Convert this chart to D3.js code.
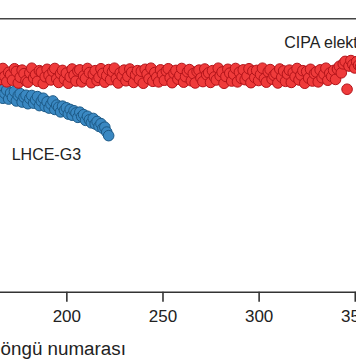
<!DOCTYPE html>
<html>
<head>
<meta charset="utf-8">
<script src="https://cdn.jsdelivr.net/npm/d3@7"></script>
<style>
  html, body { margin: 0; padding: 0; background: #fff; overflow: hidden; }
  svg { display: block; }
</style>
</head>
<body>
<script>
// CIPA electrolyte, one point per cycle starting at cycle 150
const redStart = 150;
const redValues = [
  79.0, 78.1, 80.9, 81.6, 77.2, 79.8, 76.6, 80.3, 81.9, 78.4,
  77.0, 80.6, 79.2, 76.4, 81.3, 80.0, 77.8, 81.8, 78.9, 76.9,
  80.4, 79.5, 77.5, 81.7, 80.7, 76.5, 78.6, 81.2, 79.9, 77.3,
  76.8, 80.2, 81.9, 78.3, 79.6, 77.1, 81.0, 80.5, 76.3, 78.8,
  81.5, 79.3, 77.6, 80.8, 81.8, 78.0, 76.7, 79.9, 81.1, 77.9,
  80.1, 76.4, 78.7, 81.6, 79.4, 77.2, 80.9, 81.3, 76.9, 79.1,
  78.2, 81.8, 80.3, 76.6, 79.7, 81.0, 77.4, 78.5, 81.7, 80.0,
  76.8, 79.2, 81.4, 77.7, 80.6, 81.9, 78.1, 76.5, 80.2, 79.0,
  81.2, 77.3, 78.9, 81.6, 80.4, 76.7, 79.5, 81.0, 77.8, 80.8,
  76.4, 81.5, 79.8, 78.0, 81.9, 77.1, 80.3, 78.6, 76.9, 81.3,
  79.6, 77.5, 80.9, 81.7, 78.4, 76.6, 80.0, 81.1, 77.9, 79.3,
  81.8, 76.8, 78.8, 80.6, 81.4, 77.3, 79.9, 76.5, 80.7, 81.2,
  78.3, 77.0, 81.6, 79.5, 80.2, 76.7, 81.0, 78.7, 77.6, 81.9,
  79.1, 80.5, 76.4, 78.9, 81.5, 80.1, 77.2, 79.7, 81.8, 76.9,
  80.4, 78.2, 81.3, 77.7, 79.0, 81.7, 76.6, 80.8, 78.5, 81.1,
  77.4, 79.6, 81.9, 78.1, 76.8, 80.6, 81.4, 77.9, 79.3, 80.0,
  76.5, 81.6, 78.6, 80.9, 77.1, 79.8, 81.2, 76.7, 80.3, 78.8,
  81.8, 77.6, 79.4, 81.0, 76.4, 80.7, 78.3, 81.5, 77.2, 79.9,
  80.5, 76.9, 81.3, 78.4, 79.7, 81.9, 77.5, 80.1, 78.9, 81.1,
  77.8, 81.6, 82.6, 80.2, 83.5, 84.4, 74.2, 82.7, 84.7, 83.2,
  82.0, 84.3, 83.0, 82.4, 84.1, 82.8, 83.5, 82.2, 83.9, 82.9,
  82.5
];
// LHCE-G3, one point per cycle starting at cycle 150
const blueStart = 150;
const blueValues = [
  76.0, 73.1, 75.2, 72.6, 74.8, 76.1, 72.9, 74.0, 75.6, 72.4,
  73.9, 75.3, 72.2, 74.5, 71.6, 73.8, 74.4, 70.9, 72.7, 73.9,
  70.6, 72.8, 71.2, 73.4, 69.9, 71.9, 72.6, 69.5, 71.3, 72.0,
  68.9, 70.8, 71.9, 69.1, 70.3, 71.5, 68.2, 69.8, 70.9, 67.9,
  69.6, 67.3, 68.7, 69.9, 66.8, 68.4, 67.6, 65.9, 68.0, 66.5,
  67.4, 65.1, 66.8, 64.7, 66.3, 65.5, 63.9, 65.8, 64.2, 64.9,
  62.8, 64.3, 63.0, 61.9, 63.5, 61.5, 62.4, 60.6, 61.6, 59.9,
  60.3, 58.5, 57.2
];
const xTicks = [200, 250, 300, 350];
const xTitle = "Döngü numarası";
const seriesLabels = ["CIPA elektroliti", "LHCE-G3"];

const W = 356, H = 364;
const svg = d3.select("body").append("svg").attr("width", W).attr("height", H);

const x = d3.scaleLinear().domain([0, 400]).range([-318.2, 450.9]);
const y = d3.scaleLinear().domain([0, 100]).range([291.8, 18.8]);

const red = redValues.map((v, i) => ({ c: redStart + i, v }));
const blue = blueValues.map((v, i) => ({ c: blueStart + i, v }));

const FONT = "'Liberation Sans', Arial, sans-serif";

// top frame line
svg.append("line")
  .attr("x1", x(0)).attr("x2", x(400))
  .attr("y1", y(100)).attr("y2", y(100))
  .attr("stroke", "#444").attr("stroke-width", 1.6);

// x axis
const ax = svg.append("g")
  .attr("transform", `translate(0,${y(0)})`)
  .call(d3.axisBottom(x).tickValues(xTicks).tickSize(10).tickSizeOuter(0).tickPadding(7.7));
ax.select(".domain").attr("stroke", "#333").attr("stroke-width", 1.6);
ax.selectAll(".tick line").attr("stroke", "#333").attr("stroke-width", 1.6);
ax.selectAll(".tick text")
  .attr("fill", "#222")
  .style("font-family", FONT)
  .style("font-size", "17px");

svg.append("text")
  .attr("x", -13).attr("y", 355)
  .attr("fill", "#222")
  .style("font-family", FONT)
  .style("font-size", "18.8px")
  .text(xTitle);

// points
svg.append("g").selectAll("circle").data(blue).join("circle")
  .attr("cx", d => x(d.c)).attr("cy", d => y(d.v)).attr("r", 5.3)
  .attr("fill", "#3a88c2").attr("stroke", "#1d5a87").attr("stroke-width", 1);

svg.append("g").selectAll("circle").data(red).join("circle")
  .attr("cx", d => x(d.c)).attr("cy", d => y(d.v)).attr("r", 5.3)
  .attr("fill", "#ef3b3b").attr("stroke", "#b3141a").attr("stroke-width", 1);

// labels
svg.append("text")
  .attr("x", 284.3).attr("y", 48.3)
  .attr("fill", "#222")
  .style("font-family", FONT)
  .style("font-size", "16px")
  .text(seriesLabels[0]);
svg.append("text")
  .attr("x", 11.7).attr("y", 160)
  .attr("fill", "#222")
  .style("font-family", FONT)
  .style("font-size", "16px")
  .text(seriesLabels[1]);
</script>
</body>
</html>
